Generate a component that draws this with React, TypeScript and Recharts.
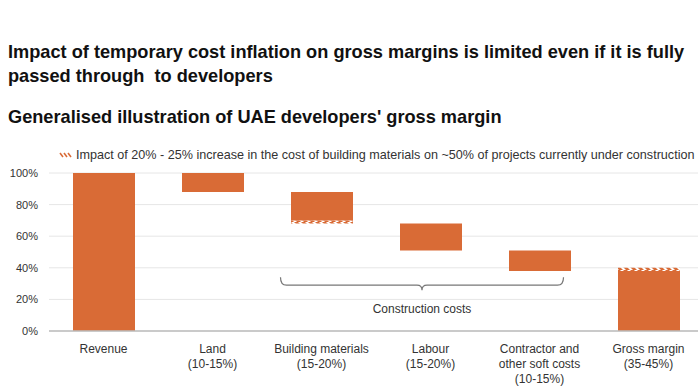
import React from 'react';
import { BarChart, Bar, XAxis, YAxis, CartesianGrid, ReferenceLine } from 'recharts';

// Waterfall steps, in % of revenue
const categories = [
    'Revenue',
    'Land\n(10-15%)',
    'Building materials\n(15-20%)',
    'Labour\n(15-20%)',
    'Contractor and\nother soft costs\n(10-15%)',
    'Gross margin\n(35-45%)',
];
const baseValues = [0, 88, 68, 51, 38, 0];        // invisible offset under each floating bar
const hatchBelowValues = [0, 0, 2, 0, 0, 0];       // cost inflation impact at the bottom of a bar
const solidValues = [100, 12, 18, 17, 13, 38];
const hatchAboveValues = [0, 0, 0, 0, 0, 2];       // cost inflation impact on top of a bar
const yTicks = [0, 20, 40, 60, 80, 100];

const braceLevel = 29;
const braceLabel = 'Construction costs';
const legendText = 'Impact of 20% - 25% increase in the cost of building materials on ~50% of projects currently under construction';

const ORANGE = '#D96B36';
const FONT = 'Arial, "Liberation Sans", sans-serif';

const data = categories.map((name, i) => ({
    name,
    base: baseValues[i],
    hatchBelow: hatchBelowValues[i],
    solid: solidValues[i],
    hatchAbove: hatchAboveValues[i],
}));

// Multi-line category label
const CategoryTick = ({ x, y, payload }: any) => {
    const lines = String(payload.value).split('\n');
    return (
        <text x={x} y={y + 12} textAnchor="middle" fill="#333" fontSize={12} fontFamily={FONT}>
            {lines.map((l, i) => (
                <tspan key={i} x={x} dy={i === 0 ? 2 : 15}>{l}</tspan>
            ))}
        </text>
    );
};

// Curly brace under the construction cost bars
const Brace = (props: any) => {
    const { x1, x2, y1 } = props;
    const left = x1 - 41;
    const right = x2 + 24;
    const mid = (left + right) / 2;
    const y = y1;
    const d = `M ${left} ${y - 8} Q ${left} ${y} ${left + 6} ${y} L ${mid - 5} ${y} Q ${mid} ${y} ${mid} ${y + 5} Q ${mid} ${y} ${mid + 5} ${y} L ${right - 6} ${y} Q ${right} ${y} ${right} ${y - 8}`;
    return (
        <g>
            <path d={d} fill="none" stroke="#777" strokeWidth={1.2} />
            <text x={mid} y={y + 28} textAnchor="middle" fill="#333" fontSize={12} fontFamily={FONT}>{braceLabel}</text>
        </g>
    );
};

const HatchLegend = () => (
    <div style={{ position: 'absolute', left: 58, top: 148, display: 'flex', alignItems: 'center', fontFamily: FONT, fontSize: 12.6, color: '#333', whiteSpace: 'nowrap' }}>
        <svg width={16} height={8} style={{ marginRight: 2 }}>
            {[2, 6, 10].map(x => (
                <line key={x} x1={x} y1={2} x2={x + 3} y2={6} stroke={ORANGE} strokeWidth={1.6} />
            ))}
        </svg>
        {legendText}
    </div>
);

export default function App() {
    return (
        <div style={{ position: 'absolute', left: 0, top: 0, width: 698, height: 392, overflow: 'hidden', background: '#fff' }}>
            <div style={{ position: 'absolute', left: 8, top: 40, fontFamily: FONT, fontWeight: 'bold', fontSize: 18.2, lineHeight: '24px', color: '#111', whiteSpace: 'nowrap' }}>
                Impact of temporary cost inflation on gross margins is limited even if it is fully<br />
                passed through&nbsp; to developers
            </div>
            <div style={{ position: 'absolute', left: 8, top: 105, fontFamily: FONT, fontWeight: 'bold', fontSize: 18.2, lineHeight: '24px', color: '#111', whiteSpace: 'nowrap' }}>
                Generalised illustration of UAE developers' gross margin
            </div>
            <HatchLegend />
            <div style={{ position: 'absolute', left: 0, top: 0 }}>
                <BarChart width={710} height={392} data={data} margin={{ top: 173, right: 7, left: 0, bottom: 0 }} barSize={62}>
                    <defs>
                        <pattern id="hatch" width={7} height={3} patternUnits="userSpaceOnUse">
                            <rect width={7} height={3} fill="#fff" />
                            <path d="M 0 0 L 4 0 L 7 3 L 3 3 Z" fill={ORANGE} />
                        </pattern>
                    </defs>
                    <CartesianGrid vertical={false} stroke="#e6e6e6" />
                    <XAxis dataKey="name" interval={0} tick={<CategoryTick />} tickLine={false} axisLine={{ stroke: '#bdbdbd', strokeWidth: 1.5 }} height={61} />
                    <YAxis domain={[0, 100]} ticks={yTicks} tickFormatter={(v: number) => `${v}%`} width={49} axisLine={false} tickLine={false}
                        tick={{ fill: '#333', fontSize: 11, fontFamily: FONT, dx: -3 }} />
                    <Bar dataKey="base" stackId="w" fill="transparent" isAnimationActive={false} />
                    <Bar dataKey="hatchBelow" stackId="w" fill="url(#hatch)" isAnimationActive={false} />
                    <Bar dataKey="solid" stackId="w" fill={ORANGE} isAnimationActive={false} />
                    <Bar dataKey="hatchAbove" stackId="w" fill="url(#hatch)" isAnimationActive={false} />
                    <ReferenceLine
                        segment={[{ x: categories[2], y: braceLevel }, { x: categories[4], y: braceLevel }]}
                        shape={<Brace />}
                        ifOverflow="visible"
                    />
                </BarChart>
            </div>
        </div>
    );
}
